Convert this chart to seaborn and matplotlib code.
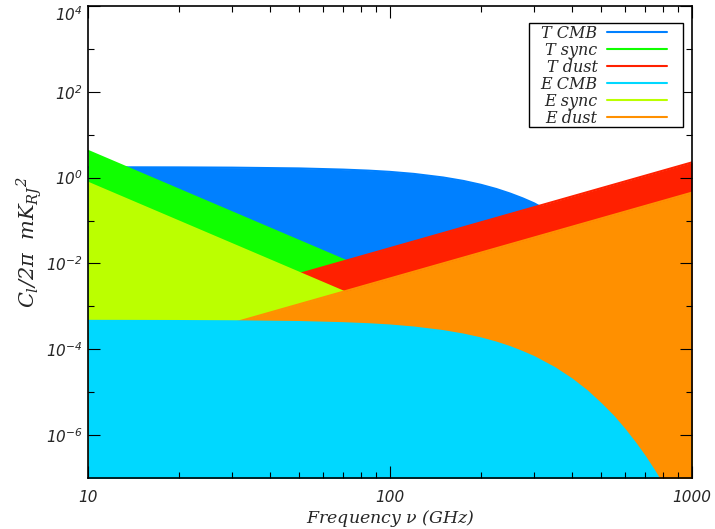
import numpy as np
import pandas as pd
import matplotlib
matplotlib.use("Agg")
import matplotlib.pyplot as plt
import matplotlib.transforms as mtransforms
from matplotlib.patches import Rectangle
import seaborn as sns

# frequency grid (GHz) for the CMB curves
freq = [10, 13, 20, 30, 50, 70, 85, 100, 120, 150, 175, 200, 225, 250, 275,
        300, 350, 400, 450, 500, 550, 600, 650, 700, 750, 800, 850, 900, 950,
        1000]

t_cmb = [1.745, 1.742, 1.733, 1.710, 1.640, 1.540, 1.457, 1.362, 1.222, 1.008,
         0.838, 0.681, 0.543, 0.425, 0.329, 0.252, 0.140, 0.0759, 0.0398,
         0.0203, 0.0102, 0.00503, 0.00245, 0.00118, 5.6e-4, 2.64e-4, 1.24e-4,
         5.74e-5, 2.65e-5, 1.22e-5]
e_cmb = [4.59e-4, 4.58e-4, 4.55e-4, 4.49e-4, 4.31e-4, 4.05e-4, 3.83e-4,
         3.58e-4, 3.21e-4, 2.65e-4, 2.20e-4, 1.79e-4, 1.43e-4, 1.12e-4,
         8.6e-5, 6.6e-5, 3.7e-5, 2.0e-5, 1.05e-5, 5.3e-6, 2.7e-6, 1.32e-6,
         6.4e-7, 3.1e-7, 1.47e-7, 6.9e-8, 3.3e-8, 1.5e-8, 7.0e-9, 3.2e-9]

# foregrounds are straight lines on log-log, read at the two ends
freq_ends = [10, 1000]
t_sync = [4.2, 4.2e-6]
e_sync = [0.76, 7.6e-7]
t_dust = [2.27e-4, 2.27]
e_dust = [4.47e-5, 0.447]

labels = ["T CMB", "T sync", "T dust", "E CMB", "E sync", "E dust"]
colors = {"T CMB": "#0080ff", "T sync": "#10ff00", "T dust": "#ff2000",
          "E CMB": "#00d8ff", "E sync": "#bbff00", "E dust": "#ff9000"}

series = {
    "T CMB": (freq, t_cmb),
    "T sync": (freq_ends, t_sync),
    "T dust": (freq_ends, t_dust),
    "E CMB": (freq, e_cmb),
    "E sync": (freq_ends, e_sync),
    "E dust": (freq_ends, e_dust),
}
# painting order (later ones cover earlier ones)
draw_order = ["T CMB", "T sync", "T dust", "E sync", "E dust", "E CMB"]

sns.set_style("ticks")
plt.rcParams["font.family"] = ["DejaVu Sans"]
plt.rcParams["mathtext.fontset"] = "custom"
plt.rcParams["mathtext.rm"] = "DejaVu Serif:italic"
plt.rcParams["mathtext.it"] = "DejaVu Serif:italic"
plt.rcParams["mathtext.sf"] = "DejaVu Sans:italic"

fig = plt.figure(figsize=(7.15, 5.29), dpi=100)
ax = fig.add_axes([88 / 715, 51 / 529, 604 / 715, 472 / 529])
ax.set_xscale("log")
ax.set_yscale("log")

handles = {}
for i, name in enumerate(draw_order):
    x, y = series[name]
    z = 1 + 0.1 * i
    df = pd.DataFrame({"freq": x, "cl": y})
    sns.lineplot(data=df, x="freq", y="cl", ax=ax, color=colors[name],
                 linewidth=1.5, zorder=z, label=name)
    ax.fill_between(x, y, 1e-9, color=colors[name], linewidth=0, zorder=z)
    handles[name] = ax.get_lines()[-1]

ax.set_xlim(10, 1000)
ax.set_ylim(1e-7, 1e4)

ax.set_xticks([10, 100, 1000])
ax.set_xticks([20, 30, 40, 50, 60, 70, 80, 90,
               200, 300, 400, 500, 600, 700, 800, 900], minor=True)
ax.xaxis.set_minor_formatter(matplotlib.ticker.NullFormatter())
ax.set_xticklabels(["10", "100", "1000"], fontstyle="italic", fontsize=11)
major_y = [-6, -4, -2, 0, 2, 4]
ax.set_yticks([10.0 ** p for p in major_y])
ax.set_yticklabels([r"$\mathsf{10^{%d}}$" % p for p in major_y], fontsize=11)
ax.set_yticks([10.0 ** p for p in [-5, -3, -1, 1, 3]], minor=True)
ax.yaxis.set_minor_formatter(matplotlib.ticker.NullFormatter())

ax.tick_params(which="both", direction="in", top=True, right=True,
               color="black", width=0.8)
ax.tick_params(which="major", length=8.5)
ax.tick_params(which="minor", length=4.5)
ax.tick_params(axis="x", which="both", pad=9)
ax.tick_params(axis="y", which="both", pad=4)
for sp in ax.spines.values():
    sp.set_linewidth(1.2)
    sp.set_color("black")
    sp.set_zorder(20)
# ticks have to sit on top of the filled areas
ax.xaxis.set_zorder(15)
ax.yaxis.set_zorder(15)

# nudge the top label down so it stays inside the picture
top_label = ax.get_yticklabels()[-1]
top_label.set_transform(top_label.get_transform() +
                        mtransforms.ScaledTranslation(0, -5 / 72, fig.dpi_scale_trans))

ax.set_xlabel(r"Frequency $\nu$ (GHz)", fontsize=12.5, family="DejaVu Serif",
              fontstyle="italic")
ax.set_ylabel(r"$C_l/2\pi\ \ mK_{RJ}{}^{2}$", fontsize=15)
ax.xaxis.set_label_coords(0.5, -0.064)
ax.yaxis.set_label_coords(-0.073, 0.5)

leg = ax.legend([handles[n] for n in labels], labels, loc="upper right",
                bbox_to_anchor=(0.9586, 0.960), borderaxespad=0,
                markerfirst=False, frameon=False, handlelength=3.75,
                handletextpad=0.6, labelspacing=0.0, borderpad=0,
                prop={"family": "DejaVu Serif", "style": "italic", "size": 11.5})
leg.set_zorder(30)
# legend box as in the reference (wider padding on the right)
ax.add_patch(Rectangle((0.730, 0.7436), 0.255, 0.2204, transform=ax.transAxes,
                       facecolor="white", edgecolor="black", linewidth=1.0,
                       zorder=29))

fig.savefig("out.png", dpi=100)
